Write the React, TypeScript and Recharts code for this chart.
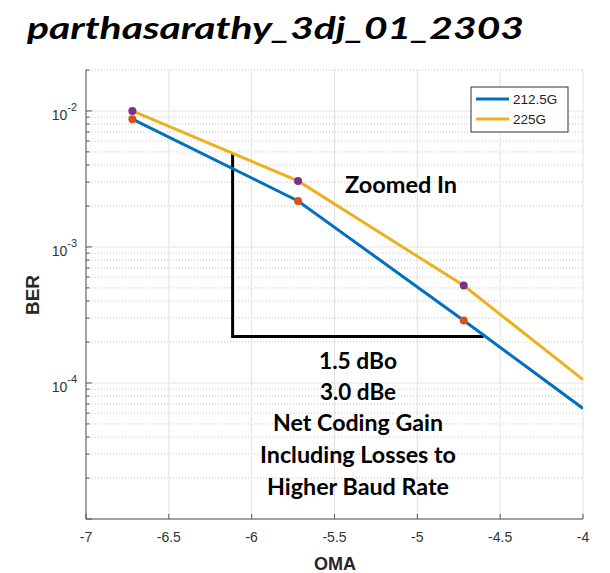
import React from 'react';
import { ComposedChart, Line, XAxis, YAxis, CartesianGrid } from 'recharts';

// values
const omaValues = [-6.72, -5.72, -4.72, -4.0];
const ber2125G = [8.7e-3, 2.18e-3, 2.88e-4, 6.5e-5];
const ber225G = [1.0e-2, 3.06e-3, 5.2e-4, 1.06e-4];
const markedCount = 3; // the point at -4 has no marker

// black "zoomed in" bracket
const bracketOma = [-6.115, -6.115, -4.6];
const bracketBer = [4.85e-3, 2.2e-4, 2.2e-4];

const omaTicks = [-7, -6.5, -6, -5.5, -5, -4.5, -4];
const berMajorTicks = [1e-5, 1e-4, 1e-3, 1e-2];
const berExponents = ['', '-4', '-3', '-2']; // bottom decade is unlabelled in the original
const berMinorTicks = [
  2e-5, 3e-5, 4e-5, 5e-5, 6e-5, 7e-5, 8e-5, 9e-5,
  2e-4, 3e-4, 4e-4, 5e-4, 6e-4, 7e-4, 8e-4, 9e-4,
  2e-3, 3e-3, 4e-3, 5e-3, 6e-3, 7e-3, 8e-3, 9e-3,
  2e-2,
];
const berAllTicks = [...berMajorTicks, ...berMinorTicks].sort((a, b) => a - b);

const seriesNames = ['212.5G', '225G'];
const titleText = 'parthasarathy_3dj_01_2303';
const zoomText = 'Zoomed In';
const gainLines = ['1.5 dBo', '3.0 dBe', 'Net Coding Gain', 'Including Losses to', 'Higher Baud Rate'];

const BLUE = '#0072BD';
const YELLOW = '#EDB120';
const ORANGE = '#D95319';
const PURPLE = '#7E2F8E';
const AXIS = '#555555';
const TICK_TEXT = '#333333';
const SANS = "'Liberation Sans', Arial, sans-serif";
const CALLOUT = "Lato, 'Open Sans', sans-serif";

const data2125 = omaValues.map((oma, i) => ({ oma, ber: ber2125G[i] }));
const data225 = omaValues.map((oma, i) => ({ oma, ber: ber225G[i] }));
const bracketData = bracketOma.map((oma, i) => ({ oma, ber: bracketBer[i] }));

const W = 610;
const H = 573;

const makeDot = (color: string) => (p: any) =>
  p.index < markedCount ? (
    <circle key={`d${p.index}`} cx={p.cx} cy={p.cy} r={4} fill={color} stroke="none" />
  ) : (
    <g key={`d${p.index}`} />
  );

const LeftTick = (props: any) => {
  const { x, y, payload } = props;
  const idx = berMajorTicks.indexOf(payload.value);
  const major = idx >= 0;
  return (
    <g>
      <line x1={x} y1={y} x2={x + (major ? 6 : 3.5)} y2={y} stroke={AXIS} />
      {major && berExponents[idx] && (
        <text x={x - 9} y={y + 9} textAnchor="end" fontSize={14} fill={TICK_TEXT} fontFamily={SANS}>
          10
          <tspan fontSize={11} dy={-9}>{berExponents[idx]}</tspan>
        </text>
      )}
    </g>
  );
};

const RightTick = (props: any) => {
  const { x, y, payload } = props;
  const major = berMajorTicks.includes(payload.value);
  return <line x1={x} y1={y} x2={x - (major ? 6 : 3.5)} y2={y} stroke={AXIS} />;
};

const BottomTick = (props: any) => {
  const { x, y, payload } = props;
  return (
    <g>
      <line x1={x} y1={y} x2={x} y2={y - 5} stroke={AXIS} />
      <text x={x} y={y + 23} textAnchor="middle" fontSize={14} fill={TICK_TEXT} fontFamily={SANS}>
        {payload.value}
      </text>
    </g>
  );
};

const TopTick = (props: any) => {
  const { x, y } = props;
  return <line x1={x} y1={y} x2={x} y2={y + 5} stroke={AXIS} />;
};

const gainLayout = [
  { y: 369, w: 78 },
  { y: 400, w: 76 },
  { y: 431, w: 170 },
  { y: 463, w: 196 },
  { y: 495, w: 182 },
];

export default function App() {
  return (
    <div style={{ position: 'absolute', left: 0, top: 0, width: W, height: H, background: '#fff' }}>
      <ComposedChart width={W} height={H} margin={{ top: 70, right: 27, bottom: 24, left: 36 }}>
        <CartesianGrid horizontalValues={berMinorTicks} vertical={false} stroke="#c4c4c4" strokeDasharray="1 2" />
        <CartesianGrid horizontalValues={berMajorTicks} verticalValues={omaTicks} stroke="#e2e2e2" />
        <XAxis
          dataKey="oma"
          type="number"
          domain={[-7, -4]}
          ticks={omaTicks}
          interval={0}
          allowDataOverflow
          height={30}
          tickSize={0}
          tickMargin={0}
          tickLine={false}
          tick={<BottomTick />}
          axisLine={{ stroke: AXIS }}
        />
        <XAxis
          xAxisId="top"
          orientation="top"
          dataKey="oma"
          type="number"
          domain={[-7, -4]}
          ticks={omaTicks}
          interval={0}
          allowDataOverflow
          height={0}
          tickSize={0}
          tickMargin={0}
          tickLine={false}
          tick={<TopTick />}
          axisLine={{ stroke: AXIS }}
        />
        <YAxis
          type="number"
          scale="log"
          domain={[1e-5, 2e-2]}
          ticks={berAllTicks}
          interval={0}
          allowDataOverflow
          width={50}
          tickSize={0}
          tickMargin={0}
          tickLine={false}
          tick={<LeftTick />}
          axisLine={{ stroke: AXIS }}
        />
        <YAxis
          yAxisId="right"
          orientation="right"
          type="number"
          scale="log"
          domain={[1e-5, 2e-2]}
          ticks={berAllTicks}
          interval={0}
          allowDataOverflow
          width={0}
          tickSize={0}
          tickMargin={0}
          tickLine={false}
          tick={<RightTick />}
          axisLine={{ stroke: AXIS }}
        />
        <Line
          data={data225}
          xAxisId="top"
          yAxisId="right"
          dataKey="ber"
          stroke="none"
          dot={false}
          activeDot={false}
          legendType="none"
          isAnimationActive={false}
        />
        <Line
          data={bracketData}
          dataKey="ber"
          stroke="#000"
          strokeWidth={3}
          dot={false}
          activeDot={false}
          type="linear"
          isAnimationActive={false}
        />
        <Line
          data={data2125}
          dataKey="ber"
          name={seriesNames[0]}
          stroke={BLUE}
          strokeWidth={3}
          dot={makeDot(ORANGE)}
          activeDot={false}
          type="linear"
          isAnimationActive={false}
        />
        <Line
          data={data225}
          dataKey="ber"
          name={seriesNames[1]}
          stroke={YELLOW}
          strokeWidth={3}
          dot={makeDot(PURPLE)}
          activeDot={false}
          type="linear"
          isAnimationActive={false}
        />
      </ComposedChart>

      <svg
        width={W}
        height={H}
        style={{ position: 'absolute', left: 0, top: 0, pointerEvents: 'none' }}
      >
        <text
          x={27}
          y={39}
          fontFamily={CALLOUT}
          fontWeight="bold"
          fontStyle="italic"
          fontSize={31}
          textLength={497}
          lengthAdjust="spacingAndGlyphs"
          fill="#000"
        >
          {titleText}
        </text>

        {/* legend */}
        <rect x={471} y={87} width={97} height={45} fill="#fff" stroke="#333" strokeWidth={1} />
        <line x1={476} y1={99} x2={509} y2={99} stroke={BLUE} strokeWidth={3} />
        <line x1={476} y1={119} x2={509} y2={119} stroke={YELLOW} strokeWidth={3} />
        <text x={513} y={104} fontSize={13.5} fontFamily={SANS} fill="#222">{seriesNames[0]}</text>
        <text x={513} y={124} fontSize={13.5} fontFamily={SANS} fill="#222">{seriesNames[1]}</text>

        <text
          x={345}
          y={193}
          fontFamily={CALLOUT}
          fontWeight="bold"
          fontSize={23}
          textLength={112}
          lengthAdjust="spacingAndGlyphs"
          fill="#000"
        >
          {zoomText}
        </text>

        {gainLines.map((t, i) => (
          <text
            key={t}
            x={358 - gainLayout[i].w / 2}
            y={gainLayout[i].y}
            fontFamily={CALLOUT}
            fontWeight="bold"
            fontSize={23}
            textLength={gainLayout[i].w}
            lengthAdjust="spacingAndGlyphs"
            fill="#000"
          >
            {t}
          </text>
        ))}

        <text
          x={0}
          y={0}
          transform="translate(39 295) rotate(-90)"
          textAnchor="middle"
          fontFamily={SANS}
          fontWeight="bold"
          fontSize={19}
          fill="#262626"
        >
          BER
        </text>
        <text
          x={335}
          y={570}
          textAnchor="middle"
          fontFamily={SANS}
          fontWeight="bold"
          fontSize={18}
          fill="#262626"
        >
          OMA
        </text>
      </svg>
    </div>
  );
}
